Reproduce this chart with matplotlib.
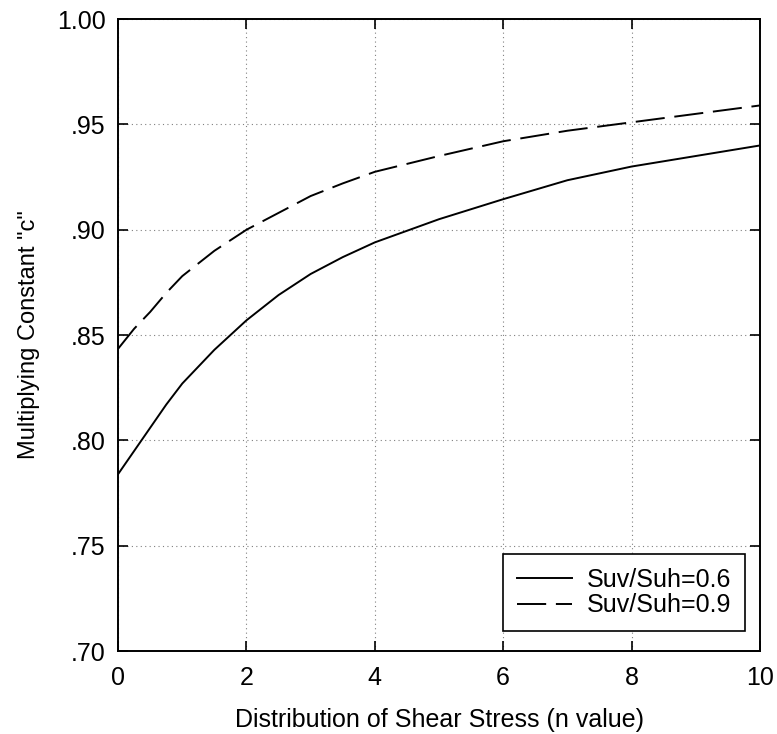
import numpy as np
import matplotlib.pyplot as plt

plt.rcParams['font.family'] = ['Liberation Sans', 'DejaVu Sans']

# n values and multiplying constant c for the two stress ratios
n = [0, 0.25, 0.5, 0.75, 1, 1.5, 2, 2.5, 3, 3.5, 4, 5, 6, 7, 8, 9, 10]
c_06 = [0.784, 0.795, 0.806, 0.817, 0.827, 0.843, 0.857, 0.869, 0.879, 0.887,
        0.894, 0.905, 0.9145, 0.9235, 0.930, 0.935, 0.940]
c_09 = [0.8435, 0.853, 0.861, 0.870, 0.878, 0.890, 0.900, 0.908, 0.916, 0.922,
        0.9275, 0.935, 0.942, 0.947, 0.951, 0.955, 0.959]

xticks = [0, 2, 4, 6, 8, 10]
yticks = [0.70, 0.75, 0.80, 0.85, 0.90, 0.95, 1.00]
ylabels = [".70", ".75", ".80", ".85", ".90", ".95", "1.00"]

fig = plt.figure(figsize=(7.77, 7.34), dpi=100)
ax = fig.add_axes([0.152, 0.113, 0.826, 0.861])

ax.plot(n, c_06, color="black", linewidth=1.4, label="Suv/Suh=0.6")
ax.plot(n, c_09, color="black", linewidth=1.4, linestyle=(0, (15, 5)), label="Suv/Suh=0.9")

ax.set_xlim(0, 10)
ax.set_ylim(0.70, 1.00)
ax.set_xticks(xticks)
ax.set_yticks(yticks)
ax.set_yticklabels(ylabels)
ax.grid(True, linestyle=(0, (1, 3)), color="gray", linewidth=0.8)

ax.tick_params(direction="in", length=7.5, width=1.2, labelsize=18,
               top=True, right=True)
ax.tick_params(axis="x", pad=11)
ax.tick_params(axis="y", pad=9)
for s in ax.spines.values():
    s.set_linewidth(1.4)

ax.set_xlabel("Distribution of Shear Stress (n value)", fontsize=18, labelpad=13)
ax.set_ylabel('Multiplying Constant "c"', fontsize=17, labelpad=12)

leg = ax.legend(loc="lower right", bbox_to_anchor=(0.9766, 0.0316), borderaxespad=0,
                fontsize=18, frameon=True, fancybox=False, edgecolor="black",
                framealpha=1, handlelength=2.2, handletextpad=0.6,
                borderpad=0.55, labelspacing=0.05)
leg.get_frame().set_linewidth(1.2)

plt.savefig("out.png", dpi=100)
